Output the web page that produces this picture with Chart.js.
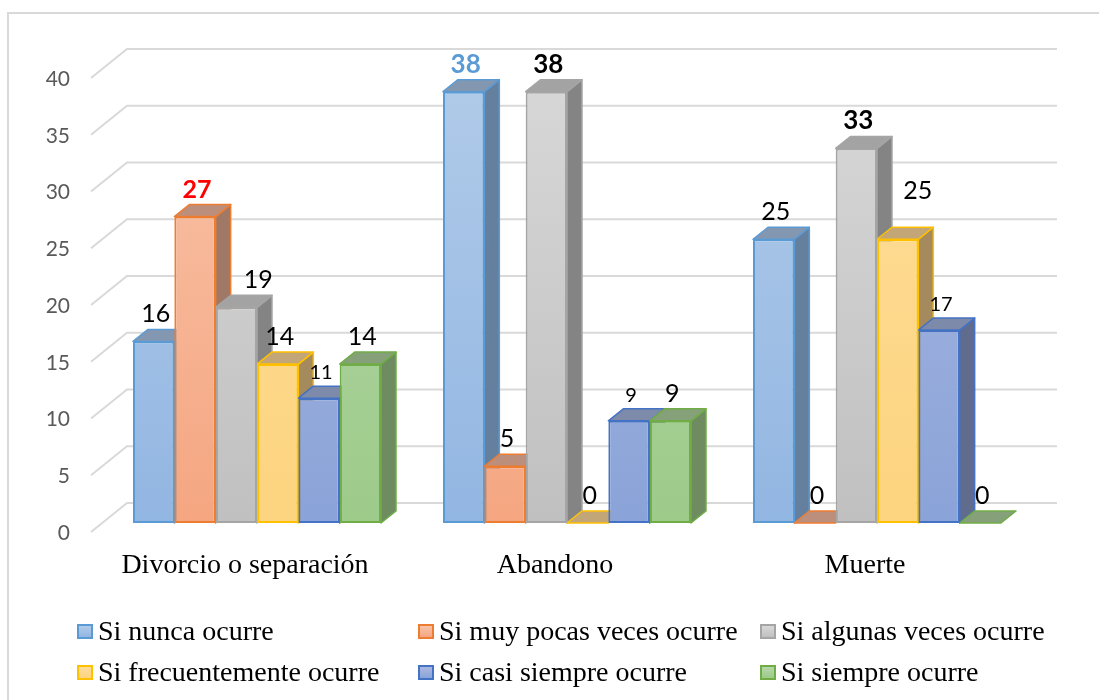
<!DOCTYPE html>
<html>
<head>
<meta charset="utf-8">
<script src="https://cdn.jsdelivr.net/npm/chart.js@4.4.0/dist/chart.umd.min.js"></script>
<style>
    html, body { margin: 0; padding: 0; background: #fff; }
    #wrap { position: relative; width: 1099px; height: 700px; overflow: hidden; }
    #chart { position: absolute; left: 0; top: 0; }
    .legend-item {
        position: absolute;
        font-family: 'Liberation Serif', 'Times New Roman', serif;
        font-size: 28px;
        line-height: 30px;
        color: #000;
        white-space: nowrap;
    }
    .legend-box {
        position: absolute;
        width: 12px;
        height: 11px;
        border: 2px solid;
    }
</style>
</head>
<body>
<div id="wrap">
    <canvas id="chart" width="1099" height="700"></canvas>
    <div id="legend"></div>
</div>
<script>
const categories = ['Divorcio o separación', 'Abandono', 'Muerte'];
const seriesNames = [
    'Si nunca ocurre',
    'Si muy pocas veces ocurre',
    'Si algunas veces ocurre',
    'Si frecuentemente ocurre',
    'Si casi siempre ocurre',
    'Si siempre ocurre'
];
const nunca = [16, 38, 25];
const muyPocas = [27, 5, 0];
const algunas = [19, 38, 33];
const frecuente = [14, 0, 25];
const casiSiempre = [11, 9, 17];
const siempre = [14, 9, 0];
const yTicks = [0, 5, 10, 15, 20, 25, 30, 35, 40];

// office-like colours: border, gradient top/bottom, dark side face, top face
const palette = [
    { border: '#5B9BD5', light: '#B1CBE9', dark: '#92B6E2', side: '#65809E', cap: '#8397B0' },
    { border: '#ED7D31', light: '#F8C3A8', dark: '#F5A681', side: '#A07866', cap: '#BB8F7C' },
    { border: '#A5A5A5', light: '#D8D8D8', dark: '#C0C0C0', side: '#848484', cap: '#A3A3A3' },
    { border: '#FFC000', light: '#FEDD9A', dark: '#FDD47F', side: '#A48A5C', cap: '#C2A677' },
    { border: '#4472C4', light: '#ABB9E1', dark: '#8AA3D8', side: '#5F6C8E', cap: '#7E8AA9' },
    { border: '#70AD47', light: '#B5D7A8', dark: '#9DCB8A', side: '#6E8C60', cap: '#86A079' }
];

const DEPTH_X = 15;
const DEPTH_Y = -12;

// label tweaks keyed "dataset-index"
const labelStyle = {
    '1-0': { color: '#FF0000', bold: true },
    '0-1': { color: '#5B9BD5', bold: true, size: 26 },
    '2-1': { bold: true, size: 26 },
    '2-2': { bold: true, size: 26 },
    '2-0': { dx: 20 },
    '3-2': { dx: 18, dy: -21 }
};

const allValues = [nunca, muyPocas, algunas, frecuente, casiSiempre, siempre];

function frontGradient(context, i) {
    const chart = context.chart;
    const area = chart.chartArea;
    if (!area) return palette[i].light;
    const g = chart.ctx.createLinearGradient(0, area.top, 0, area.bottom);
    g.addColorStop(0, palette[i].light);
    g.addColorStop(1, palette[i].dark);
    return g;
}

const bars3d = {
    id: 'bars3d',
    beforeDraw(chart) {
        const ctx = chart.ctx;
        ctx.save();
        ctx.strokeStyle = '#D9D9D9';
        ctx.lineWidth = 2;
        ctx.beginPath();
        ctx.moveTo(8, 700);
        ctx.lineTo(8, 13);
        ctx.lineTo(1099, 13);
        ctx.stroke();
        ctx.restore();
    },
    beforeDatasetsDraw(chart) {
        const ctx = chart.ctx;
        const area = chart.chartArea;
        const y = chart.scales.y;
        ctx.save();
        // gridlines: floor-ish slant at the left, then flat along the back wall
        ctx.strokeStyle = '#D9D9D9';
        ctx.lineWidth = 2;
        yTicks.forEach(v => {
            const py = y.getPixelForValue(v);
            ctx.beginPath();
            ctx.moveTo(area.left - 11, py + 9);
            ctx.lineTo(area.left + 25, py - 20);
            ctx.lineTo(area.right + 25, py - 20);
            ctx.stroke();
        });
        // side and top faces, left to right so the next front face covers them
        ctx.lineWidth = 1.5;
        ctx.lineJoin = 'round';
        categories.forEach((c, j) => {
            chart.data.datasets.forEach((ds, i) => {
                const el = chart.getDatasetMeta(i).data[j];
                const left = el.x - el.width / 2;
                const right = el.x + el.width / 2;
                const top = el.y;
                const base = el.base;
                ctx.strokeStyle = palette[i].border;
                if (base - top > 0.5) {
                    ctx.fillStyle = palette[i].side;
                    ctx.beginPath();
                    ctx.moveTo(right, top);
                    ctx.lineTo(right + DEPTH_X, top + DEPTH_Y);
                    ctx.lineTo(right + DEPTH_X, base + DEPTH_Y);
                    ctx.lineTo(right, base);
                    ctx.closePath();
                    ctx.fill();
                    ctx.stroke();
                }
                ctx.fillStyle = palette[i].cap;
                ctx.beginPath();
                ctx.moveTo(left, top);
                ctx.lineTo(left + DEPTH_X, top + DEPTH_Y);
                ctx.lineTo(right + DEPTH_X, top + DEPTH_Y);
                ctx.lineTo(right, top);
                ctx.closePath();
                ctx.fill();
                ctx.stroke();
            });
        });
        ctx.restore();
    },
    afterDatasetsDraw(chart) {
        const ctx = chart.ctx;
        ctx.save();
        ctx.textAlign = 'center';
        ctx.textBaseline = 'alphabetic';
        chart.data.datasets.forEach((ds, i) => {
            chart.getDatasetMeta(i).data.forEach((el, j) => {
                const s = labelStyle[i + '-' + j] || {};
                const size = s.size || (i === 4 ? 20 : 25);
                ctx.font = (s.bold ? 'bold ' : '') + size + 'px Lato, "Open Sans", sans-serif';
                ctx.fillStyle = s.color || '#000';
                ctx.fillText(String(ds.data[j]), el.x + 2 + (s.dx || 0), el.y - 19 + (s.dy || 0));
            });
        });
        ctx.restore();
    }
};

const ctx = document.getElementById('chart').getContext('2d');

const chart = new Chart(ctx, {
    type: 'bar',
    data: {
        labels: categories,
        datasets: seriesNames.map((name, i) => ({
            label: name,
            data: allValues[i],
            backgroundColor: context => frontGradient(context, i),
            borderColor: palette[i].border,
            borderWidth: 2,
            borderSkipped: false,
            categoryPercentage: 0.8,
            barPercentage: 1.0
        }))
    },
    options: {
        responsive: false,
        animation: false,
        layout: {
            padding: { left: 0, top: 69, right: 67, bottom: 0 }
        },
        plugins: {
            legend: { display: false },
            tooltip: { enabled: false }
        },
        scales: {
            x: {
                grid: { display: false, drawTicks: false },
                border: { display: false },
                ticks: {
                    color: '#000',
                    padding: 26,
                    labelOffset: -12,
                    font: { family: '"Liberation Serif", "Times New Roman", serif', size: 28 }
                },
                afterFit(scale) { scale.height = 177; }
            },
            y: {
                min: 0,
                max: 40,
                grid: { display: false, drawTicks: false },
                border: { display: false },
                ticks: {
                    stepSize: 5,
                    color: '#595959',
                    padding: 32,
                    labelOffset: 10,
                    font: { family: 'Lato, "Open Sans", sans-serif', size: 21 }
                },
                afterFit(scale) { scale.width = 102; }
            }
        }
    },
    plugins: [bars3d]
});

// legend in three fixed columns, built from the datasets
const legendEl = document.getElementById('legend');
const colX = [77, 418, 760];
const rowTop = [616, 657];
chart.data.datasets.forEach((ds, i) => {
    const col = i % 3;
    const row = Math.floor(i / 3);
    const box = document.createElement('div');
    box.className = 'legend-box';
    box.style.left = colX[col] + 'px';
    box.style.top = (rowTop[row] + 8) + 'px';
    box.style.borderColor = palette[i].border;
    box.style.background = 'linear-gradient(' + palette[i].light + ', ' + palette[i].dark + ')';
    legendEl.appendChild(box);
    const item = document.createElement('div');
    item.className = 'legend-item';
    item.style.left = (colX[col] + 21) + 'px';
    item.style.top = rowTop[row] + 'px';
    item.textContent = ds.label;
    legendEl.appendChild(item);
});
</script>
</body>
</html>
